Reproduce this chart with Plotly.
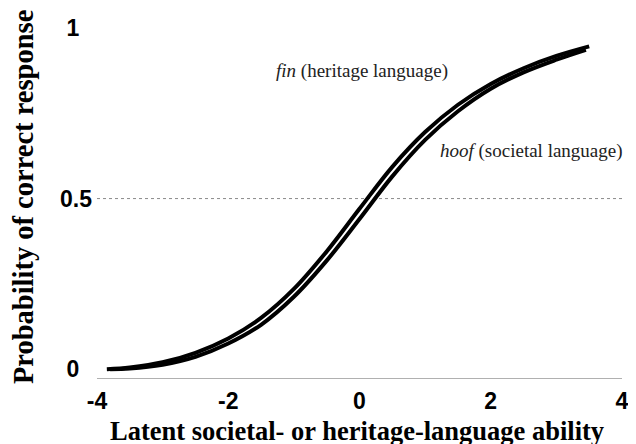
import plotly.graph_objects as go

# Data
ability_fin = [-3.85, -3.5, -3.0, -2.5, -2.0, -1.5, -1.0, -0.5, 0.0, 0.5, 1.0, 1.5, 2.0, 2.5, 3.0, 3.5]
prob_fin = [0.0, 0.005, 0.020, 0.048, 0.090, 0.150, 0.235, 0.345, 0.470, 0.593, 0.695, 0.775, 0.836, 0.882, 0.918, 0.946]

ability_hoof = [-3.8, -3.5, -3.0, -2.5, -2.0, -1.5, -1.0, -0.5, 0.0, 0.5, 1.0, 1.5, 2.0, 2.5, 3.0, 3.45]
prob_hoof = [0.0, 0.002, 0.013, 0.036, 0.075, 0.130, 0.212, 0.318, 0.440, 0.565, 0.672, 0.756, 0.822, 0.870, 0.907, 0.936]

x_ticks = [-4, -2, 0, 2, 4]
x_tick_labels = ["-4", "-2", "0", "2", "4"]
y_ticks = [0, 0.5, 1]
y_tick_labels = ["0\u00a0\u00a0", "0.5", "1\u00a0\u00a0"]

reference_level = 0.5

# page is shown with an 8px body margin, so the figure is 8px smaller
W, H = 628, 436
L, R, T, B = 89, 7, 13, 66
PW, PH = W - L - R, H - T - B

fig = go.Figure()
fig.add_trace(go.Scatter(x=ability_hoof, y=prob_hoof, mode="lines",
                         line=dict(color="black", width=4, shape="spline", smoothing=1.0),
                         name="hoof", showlegend=False))
fig.add_trace(go.Scatter(x=ability_fin, y=prob_fin, mode="lines",
                         line=dict(color="black", width=4, shape="spline", smoothing=1.0),
                         name="fin", showlegend=False))

fig.add_shape(type="line", xref="x", yref="y", x0=-4, x1=4,
              y0=reference_level, y1=reference_level,
              line=dict(color="#8a8a8a", width=1, dash="dot"), layer="below")

tick_font = dict(family="Liberation Sans, Arial, sans-serif", size=23, color="black", weight="bold")
title_font_x = dict(family="Liberation Serif, Times New Roman, serif", size=26.5, color="black", weight="bold")
title_font_y = dict(family="Liberation Serif, Times New Roman, serif", size=28.5, color="black", weight="bold")
label_font = dict(family="Liberation Serif, Times New Roman, serif", size=19, color="#222222")

fig.add_annotation(x=0.045, y=0.874, xref="x", yref="y",
                   text="<i>fin</i> (heritage language)", showarrow=False,
                   font=label_font, xanchor="center", yanchor="middle")
fig.add_annotation(x=2.62, y=0.638, xref="x", yref="y",
                   text="<i>hoof</i> (societal language)", showarrow=False,
                   font=label_font, xanchor="center", yanchor="middle")

fig.add_annotation(x=(352 - L) / PW, y=(H - B - 424) / PH, xref="paper", yref="paper",
                   text="Latent societal- or heritage-language ability", showarrow=False,
                   font=title_font_x, xanchor="center", yanchor="middle")
fig.add_annotation(x=(14.5 - L) / PW, y=(H - B - 185) / PH, xref="paper", yref="paper",
                   text="Probability of correct response", showarrow=False, textangle=-90,
                   font=title_font_y, xanchor="center", yanchor="middle")

fig.update_layout(
    width=W, height=H,
    margin=dict(l=L, r=R, t=T, b=B),
    paper_bgcolor="white", plot_bgcolor="white",
    xaxis=dict(range=[-4, 4], tickvals=x_ticks, ticktext=x_tick_labels,
               showgrid=False, zeroline=False, showline=True, linecolor="#b0b0b0", linewidth=1,
               ticks="", tickfont=tick_font, ticklabelstandoff=2, fixedrange=True),
    yaxis=dict(range=[-0.026, 1.0], tickvals=y_ticks, ticktext=y_tick_labels,
               showgrid=False, zeroline=False, showline=False,
               ticks="", tickfont=tick_font, ticklabelstandoff=4, fixedrange=True),
)

fig.write_html("out.html")
